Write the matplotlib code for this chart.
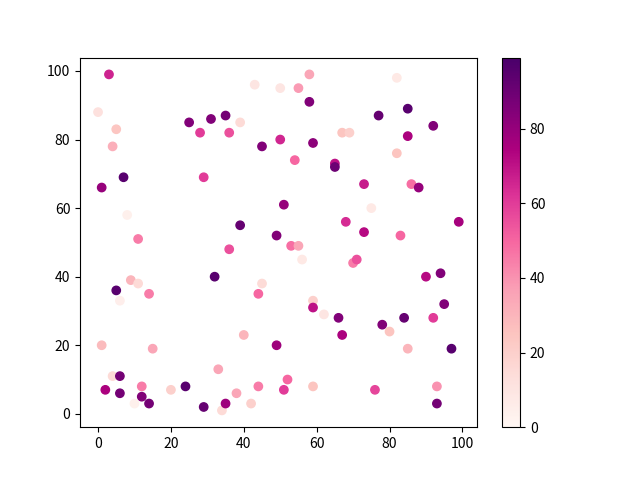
import numpy as np
import matplotlib
matplotlib.use('Agg')
import matplotlib.pyplot as plt

plt.rcParams['font.family'] = ['Noto Sans CJK SC', 'DejaVu Sans']
plt.rcParams['axes.unicode_minus'] = False

# 散点数据
x = [3, 0, 5, 4, 7, 1, 8, 11, 25, 28,
     31, 35, 36, 39, 45, 29, 43, 50, 50, 39,
     49, 36, 51, 58, 55, 58, 82, 77, 85, 92,
     67, 69, 85, 59, 82, 54, 65, 65, 73, 86,
     88, 75, 68, 99, 73, 83, 53, 55, 5, 6,
     9, 11, 14, 32, 45, 44, 40, 1, 15, 49,
     33, 4, 6, 2, 6, 12, 12, 10, 14, 20,
     24, 29, 34, 35, 38, 42, 44, 51, 52, 56,
     70, 71, 90, 94, 59, 59, 62, 66, 67, 84,
     78, 80, 92, 95, 85, 97, 59, 76, 93, 93]
y = [99, 88, 83, 78, 69, 66, 58, 51, 85, 82,
     86, 87, 82, 85, 78, 69, 96, 95, 80, 55,
     52, 48, 61, 99, 95, 91, 98, 87, 89, 84,
     82, 82, 81, 79, 76, 74, 73, 72, 67, 67,
     66, 60, 56, 56, 53, 52, 49, 49, 36, 33,
     39, 38, 35, 40, 38, 35, 23, 20, 19, 20,
     13, 11, 11, 7, 6, 8, 5, 3, 3, 7,
     8, 2, 1, 3, 6, 3, 8, 7, 10, 45,
     44, 45, 40, 41, 33, 31, 29, 28, 23, 28,
     26, 24, 28, 32, 19, 19, 8, 7, 8, 3]
c = [66, 12, 24, 32, 95, 80, 4, 45, 85, 60,
     85, 88, 55, 15, 85, 60, 10, 10, 65, 92,
     85, 55, 80, 35, 38, 85, 8, 92, 95, 85,
     25, 20, 75, 82, 25, 50, 70, 90, 68, 48,
     80, 8, 64, 76, 72, 50, 48, 35, 95, 5,
     30, 15, 45, 95, 15, 50, 30, 28, 35, 78,
     35, 15, 88, 75, 88, 45, 85, 4, 88, 20,
     95, 92, 15, 78, 35, 20, 45, 60, 50, 8,
     45, 55, 72, 85, 20, 70, 10, 85, 75, 92,
     85, 25, 60, 85, 30, 95, 25, 58, 40, 88]

fig, ax = plt.subplots(figsize=(6.4, 4.8))
sc = ax.scatter(x, y, c=c, cmap='RdPu', vmin=0, vmax=99)
fig.colorbar(sc, ax=ax)

plt.savefig('out.png', dpi=100)
